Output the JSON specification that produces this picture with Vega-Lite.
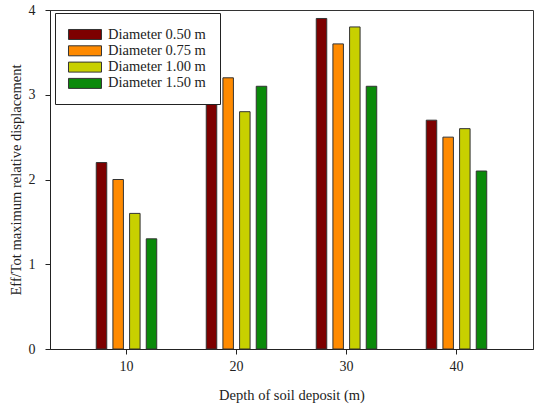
{
  "$schema": "https://vega.github.io/schema/vega-lite/v6.json",
  "width": 483,
  "height": 339,
  "autosize": {"type": "none"},
  "padding": {"left": 50, "top": 10, "right": 5, "bottom": 58},
  "background": "white",
  "config": {
    "font": "Liberation Serif",
    "view": {"stroke": "#333", "strokeWidth": 1},
    "axis": {
      "grid": false,
      "domainColor": "#222",
      "tickColor": "#222",
      "labelColor": "#222",
      "titleColor": "#222",
      "labelFont": "Liberation Serif",
      "titleFont": "Liberation Serif",
      "labelFontSize": 14,
      "titleFontSize": 14.5,
      "titleFontWeight": "normal",
      "tickSize": 5
    }
  },
  "data": {
    "values": [
      {"depth": 10, "series": "Diameter 0.50 m", "value": 2.2},
      {"depth": 10, "series": "Diameter 0.75 m", "value": 2.0},
      {"depth": 10, "series": "Diameter 1.00 m", "value": 1.6},
      {"depth": 10, "series": "Diameter 1.50 m", "value": 1.3},
      {"depth": 20, "series": "Diameter 0.50 m", "value": 3.3},
      {"depth": 20, "series": "Diameter 0.75 m", "value": 3.2},
      {"depth": 20, "series": "Diameter 1.00 m", "value": 2.8},
      {"depth": 20, "series": "Diameter 1.50 m", "value": 3.1},
      {"depth": 30, "series": "Diameter 0.50 m", "value": 3.9},
      {"depth": 30, "series": "Diameter 0.75 m", "value": 3.6},
      {"depth": 30, "series": "Diameter 1.00 m", "value": 3.8},
      {"depth": 30, "series": "Diameter 1.50 m", "value": 3.1},
      {"depth": 40, "series": "Diameter 0.50 m", "value": 2.7},
      {"depth": 40, "series": "Diameter 0.75 m", "value": 2.5},
      {"depth": 40, "series": "Diameter 1.00 m", "value": 2.6},
      {"depth": 40, "series": "Diameter 1.50 m", "value": 2.1}
    ]
  },
  "mark": {"type": "bar", "stroke": "#333", "strokeWidth": 1},
  "encoding": {
    "x": {
      "field": "depth",
      "type": "ordinal",
      "title": "Depth of soil deposit (m)",
      "scale": {"paddingInner": 0.394, "paddingOuter": 0.3925},
      "axis": {"labelAngle": 0, "labelPadding": 5, "titlePadding": 15}
    },
    "xOffset": {
      "field": "series",
      "type": "nominal",
      "scale": {"paddingInner": 0.37, "paddingOuter": 0.185}
    },
    "y": {
      "field": "value",
      "type": "quantitative",
      "title": "Eff/Tot maximum relative displacement",
      "scale": {"domain": [0, 4], "nice": false},
      "axis": {"values": [0, 1, 2, 3, 4], "labelPadding": 10, "titlePadding": 5}
    },
    "color": {
      "field": "series",
      "type": "nominal",
      "title": null,
      "scale": {
        "domain": ["Diameter 0.50 m", "Diameter 0.75 m", "Diameter 1.00 m", "Diameter 1.50 m"],
        "range": ["#7d0000", "#ff8a00", "#c8d000", "#0a8a0a"]
      },
      "legend": {
        "orient": "none",
        "legendX": 5,
        "legendY": 3,
        "padding": 13.5,
        "strokeColor": "#222",
        "fillColor": "white",
        "symbolType": "M-1.067,-0.667H3.333V0.667H-1.067Z",
        "symbolSize": 225,
        "symbolStrokeColor": "#333",
        "symbolStrokeWidth": 1,
        "symbolOpacity": 1,
        "labelFont": "Liberation Serif",
        "labelFontSize": 14.5,
        "labelColor": "#222",
        "labelOffset": 23.5,
        "rowPadding": 0.3
      }
    }
  }
}
